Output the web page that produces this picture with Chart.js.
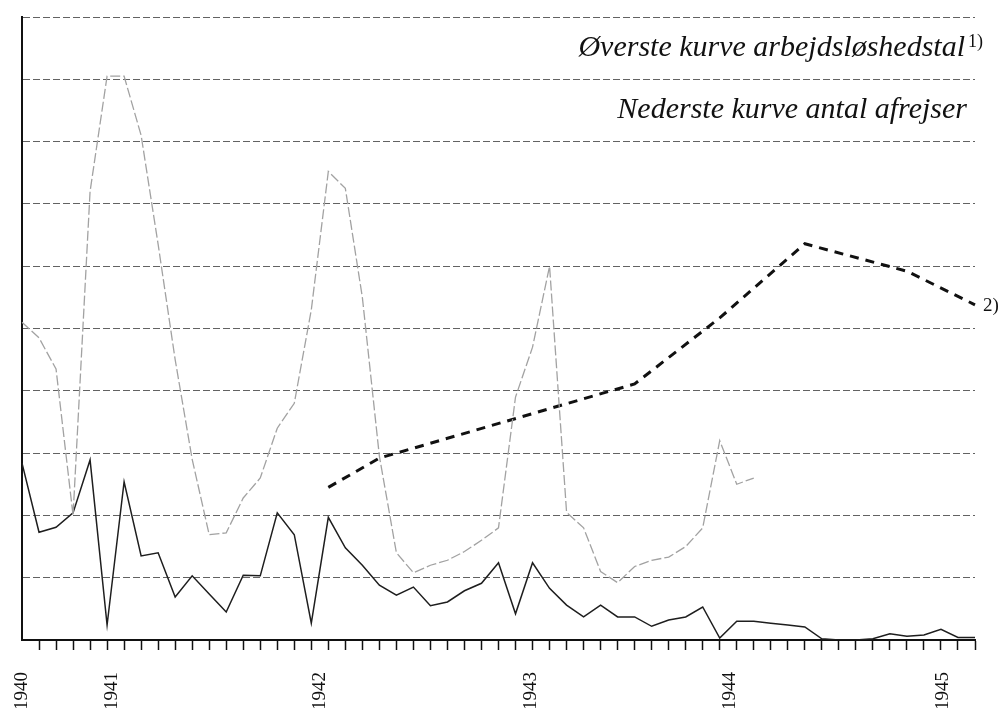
<!DOCTYPE html>
<html lang="da">
<head>
<meta charset="utf-8">
<title>Arbejdsløshedstal og afrejser 1940-1945</title>
<script src="https://cdn.jsdelivr.net/npm/chart.js@4.4.1/dist/chart.umd.min.js"></script>
<style>
    body { margin: 0; background: #fff; }
    #ramme { width: 999px; height: 708px; }
</style>
</head>
<body>
<div id="ramme">
    <canvas id="grafAfrejser" width="999" height="708"></canvas>
</div>
<script>
// maaneder fra aug. 1940 til apr. 1945
var maanedNavne = ['jan', 'feb', 'mar', 'apr', 'maj', 'jun', 'jul', 'aug', 'sep', 'okt', 'nov', 'dec'];
var startAar = 1940;
var startMaaned = 7;
var antalMaaneder = 57;

// aarstal under aksen og hvor de staar (i maaneder fra start)
var aarTekst = ['1940', '1941', '1942', '1943', '1944', '1945'];
var aarPlacering = [0, 5.3, 17.5, 29.9, 41.6, 54.1];

// overste kurve: arbejdsloshedstal
var arbejdsloshed = [
    5.1, 4.85, 4.35, 2.0, 7.2, 9.05, 9.05, 8.1, 6.35, 4.5,
    2.9, 1.69, 1.72, 2.28, 2.6, 3.4, 3.8, 5.3, 7.52, 7.25,
    5.5, 2.95, 1.4, 1.08, 1.2, 1.28, 1.42, 1.6, 1.8, 3.9,
    4.7, 6.0, 2.05, 1.8, 1.1, 0.92, 1.18, 1.28, 1.33, 1.5,
    1.8, 3.2, 2.5, 2.6, null, null, null, null, null, null,
    null, null, null, null, null, null, null
];

// nederste kurve: antal afrejser
var afrejser = [
    2.84, 1.73, 1.81, 2.04, 2.89, 0.24, 2.54, 1.35, 1.40, 0.69,
    1.03, 0.74, 0.45, 1.04, 1.03, 2.04, 1.69, 0.27, 1.97, 1.48,
    1.2, 0.88, 0.72, 0.85, 0.55, 0.61, 0.79, 0.91, 1.24, 0.42,
    1.24, 0.83, 0.56, 0.37, 0.56, 0.37, 0.37, 0.22, 0.32, 0.37,
    0.53, 0.03, 0.3, 0.3, 0.27, 0.24, 0.21, 0.02, 0, 0,
    0.02, 0.1, 0.06, 0.08, 0.17, 0.04, 0.04
];

// stiplet kurve (note 2)
var note2Kurve = [
    null, null, null, null, null, null, null, null, null, null,
    null, null, null, null, null, null, null, null, 2.45, null,
    null, 2.92, null, null, null, null, null, null, null, null,
    null, null, null, null, null, null, 4.11, null, null, null,
    null, 5.17, null, null, null, null, 6.36, null, null, null,
    null, null, 5.92, null, null, null, 5.38
];

var tekstOverst = 'Øverste kurve arbejdsløshedstal';
var tekstNederst = 'Nederste kurve antal afrejser';

var labels = [];
for (let i = 0; i < antalMaaneder; i++) {
    var m = (startMaaned + i) % 12;
    var aar = startAar + Math.floor((startMaaned + i) / 12);
    labels.push(maanedNavne[m] + ' ' + aar);
}

var tekstPlugin = {
    id: 'tekster',
    afterDraw(chart) {
        var ctx = chart.ctx;
        var omr = chart.chartArea;
        var y = chart.scales.y;
        var x = chart.scales.x;

        ctx.save();
        ctx.fillStyle = '#111';
        ctx.textBaseline = 'alphabetic';

        ctx.font = 'italic 30px "Liberation Serif"';
        ctx.textAlign = 'right';
        ctx.fillText(tekstOverst, omr.right - 10, y.getPixelForValue(9.37));
        ctx.fillText(tekstNederst, omr.right - 8, y.getPixelForValue(8.38));

        ctx.font = '18px "Liberation Serif"';
        ctx.textAlign = 'left';
        ctx.fillText('1)', omr.right - 7, y.getPixelForValue(9.52));

        // note 2 ved enden af den stiplede kurve
        ctx.font = '19px "Liberation Serif"';
        ctx.textBaseline = 'middle';
        var sidst = note2Kurve.length - 1;
        ctx.fillText('2)', x.getPixelForValue(sidst) + 8, y.getPixelForValue(note2Kurve[sidst]) + 1);
        ctx.restore();
    }
};

var ctxAfrejser = document.getElementById('grafAfrejser');

var grafAfrejser = new Chart(ctxAfrejser, {
    type: 'line',
    data: {
        labels: labels,
        datasets: [
            {
                label: 'Arbejdsløshedstal',
                data: arbejdsloshed,
                borderColor: '#a2a2a2',
                borderWidth: 1.3,
                borderDash: [10, 3],
                pointRadius: 0,
                tension: 0
            },
            {
                label: 'Antal afrejser',
                data: afrejser,
                borderColor: '#1e1e1e',
                borderWidth: 1.5,
                pointRadius: 0,
                tension: 0
            },
            {
                label: 'Note 2',
                data: note2Kurve,
                spanGaps: true,
                borderColor: '#111',
                borderWidth: 3,
                borderDash: [9, 7],
                pointRadius: 0,
                tension: 0
            }
        ]
    },
    options: {
        responsive: false,
        animation: false,
        layout: {
            padding: { top: 17, right: 24, left: 0, bottom: 0 }
        },
        plugins: {
            legend: { display: false },
            tooltip: { enabled: false }
        },
        scales: {
            x: {
                type: 'category',
                position: 'bottom',
                grid: {
                    drawOnChartArea: false,
                    drawTicks: true,
                    tickLength: 10,
                    // ingen streg ved allerforste maaned
                    tickColor: function (c) { return c.index === 0 ? 'rgba(0,0,0,0)' : '#111'; },
                    tickWidth: 1.5
                },
                border: { display: true, color: '#111', width: 2 },
                ticks: { display: false, autoSkip: false },
                afterFit: function (scale) { scale.height = 10; }
            },
            aar: {
                type: 'linear',
                position: 'bottom',
                min: 0,
                max: antalMaaneder - 1,
                grid: { display: false, drawTicks: false },
                border: { display: false },
                afterBuildTicks: function (scale) {
                    scale.ticks = aarPlacering.map(function (v) { return { value: v }; });
                },
                ticks: {
                    autoSkip: false,
                    minRotation: 90,
                    maxRotation: 90,
                    padding: 22,
                    color: '#111',
                    font: { family: '"Liberation Serif"', size: 19 },
                    callback: function (value) {
                        var idx = aarPlacering.indexOf(value);
                        return idx >= 0 ? aarTekst[idx] : '';
                    }
                },
                afterFit: function (scale) { scale.height = 58; }
            },
            y: {
                min: 0,
                max: 10,
                ticks: { display: false, stepSize: 1 },
                grid: {
                    color: 'rgba(70, 70, 70, 0.85)',
                    lineWidth: 1,
                    drawTicks: false
                },
                border: { display: true, color: '#111', width: 2, dash: [7, 3] },
                afterFit: function (scale) { scale.width = 20; }
            }
        }
    },
    plugins: [tekstPlugin]
});
</script>
</body>
</html>
